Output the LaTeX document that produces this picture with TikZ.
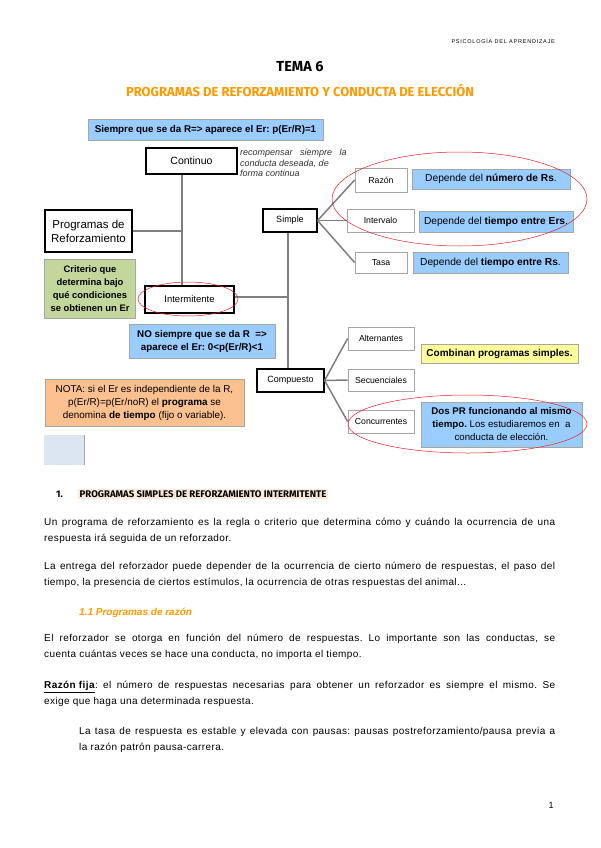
\documentclass[tikz,border=0pt]{standalone}
\usepackage{fontspec}
\setmainfont{Liberation Sans}
\newfontfamily\headfont{Fira Sans}
\usepackage{xcolor}
\usepackage{tikz}
\usetikzlibrary{
  positioning,
  shapes.geometric
}
\frenchspacing
\definecolor{psBlue}{HTML}{99CCFF}
\definecolor{psGreen}{HTML}{C3D69B}
\definecolor{psPeach}{HTML}{FAC090}
\definecolor{psYellow}{HTML}{FFFF99}
\definecolor{psOrange}{HTML}{FF9900}
\definecolor{psLine}{HTML}{7F7F7F}
\definecolor{psEdge}{HTML}{A6A6A6}
\definecolor{psSquare}{HTML}{DCE6F0}
\definecolor{psHigh}{HTML}{FDE9D9}
\definecolor{psRing}{HTML}{E8202A}
\tikzset{
  psnode/.style={
    draw, inner sep=1pt, align=center, font=\fontsize{8}{10}\selectfont
  },
  mainbox/.style={psnode, fill=white, line width=1.6pt, font=\fontsize{10.5}{12}\selectfont},
  midbox/.style={psnode, fill=white, line width=1.1pt, font=\fontsize{9}{10}\selectfont},
  leafbox/.style={psnode, fill=white, draw=psEdge, line width=0.8pt, font=\fontsize{8.7}{10}\selectfont},
  infobox/.style={psnode, fill=psBlue, draw=psEdge, line width=0.6pt, font=\fontsize{10.2}{12}\selectfont},
  notebox/.style={psnode, draw=psEdge, line width=0.6pt, font=\fontsize{9.9}{13}\selectfont},
  branch/.style={draw=psLine, line width=1.5pt},
  ring/.style={draw=psRing, line width=0.5pt},
  para/.style={anchor=north west, align=justify, inner sep=0pt, font=\fontsize{10}{16}\selectfont\addfontfeatures{LetterSpace=4}},
  hand/.style={anchor=north west, align=left, inner sep=0pt, font=\fontsize{9}{10.5}\selectfont\itshape, text=black!80}
}

\begin{document}
\begin{tikzpicture}[x=1pt, y=-1pt]
  \useasboundingbox[fill=white] (0,0) rectangle (600,848);

  % page head
  \node[anchor=east, inner sep=0pt, font=\fontsize{5.5}{6}\selectfont\addfontfeatures{LetterSpace=14}] (runhead) at (555,41) {PSICOLOGÌA DEL APRENDIZAJE};
  \node[inner sep=0pt, font=\headfont\bfseries\fontsize{14.5}{16}\selectfont] (tema) at (300,67) {TEMA 6};
  \node[inner sep=0pt, text=psOrange, font=\headfont\bfseries\fontsize{13}{15}\selectfont] (titulo) at (300,90) {PROGRAMAS DE REFORZAMIENTO Y CONDUCTA DE ELECCIÓN};

  % diagram
  \node[infobox, font=\bfseries\fontsize{9.8}{11}\selectfont, minimum width=235, minimum height=21] (siempre) at (205.5,129.5) {Siempre que se da R=> aparece el Er: p(Er/R)=1};
  \node[mainbox, minimum width=91, minimum height=26] (continuo) at (191.5,161) {Continuo};
  \node[hand] (nota1) at (240,149) {recompensar \ \ siempre \ \ la\\conducta deseada, de\\forma continua};
  \node[mainbox, font=\fontsize{11.5}{14}\selectfont, minimum width=87, minimum height=42] (programas) at (88.5,231) {Programas de\\Reforzamiento};
  \node[notebox, fill=psGreen, font=\bfseries\fontsize{9.4}{13}\selectfont, minimum width=91, minimum height=59] (criterio) at (90,288.5) {Criterio que\\determina bajo\\qué condiciones\\se obtienen un Er};
  \node[mainbox, font=\fontsize{9.5}{10}\selectfont, minimum width=89, minimum height=27] (interm) at (189.5,299.5) {Intermitente};
  \node[infobox, font=\bfseries\fontsize{9.8}{13}\selectfont, minimum width=146, minimum height=34] (nosiempre) at (202,341) {NO siempre que se da R \ =>\\aparece el Er: 0<p(Er/R)<1};
  \node[notebox, fill=psPeach, minimum width=199, minimum height=47] (nota) at (144.5,402.5) {NOTA: si el Er es independiente de la R,\\p(Er/R)=p(Er/noR) el \textbf{programa} se\\denomina \textbf{de tiempo} (fijo o variable).};
  \node[fill=psSquare, draw=none, minimum width=40, minimum height=30, inner sep=0pt] (cuadro) at (64,450) {};
  \draw[psEdge, line width=1.2pt] (cuadro.north east) -- (cuadro.south east);

  \node[midbox, minimum width=54, minimum height=23] (simple) at (290,220.5) {Simple};
  \node[leafbox, minimum width=52, minimum height=24] (razon) at (381,180) {Razón};
  \node[leafbox, line width=0.5pt, minimum width=67, minimum height=23] (intervalo) at (380.5,220.5) {Intervalo};
  \node[leafbox, minimum width=52, minimum height=21] (tasa) at (381,262.5) {Tasa};
  \node[infobox, minimum width=158, minimum height=20] (dep1) at (491,179) {Depende del \textbf{número de Rs}.};
  \node[infobox, minimum width=154, minimum height=21] (dep2) at (496,221.5) {Depende del \textbf{tiempo entre Ers}.};
  \node[infobox, minimum width=155, minimum height=21] (dep3) at (490.5,262.5) {Depende del \textbf{tiempo entre Rs}.};

  \node[midbox, minimum width=67, minimum height=23] (compuesto) at (290.5,380.5) {Compuesto};
  \node[leafbox, minimum width=66, minimum height=23] (altern) at (381,338.5) {Alternantes};
  \node[leafbox, minimum width=66, minimum height=22] (secuen) at (381,380) {Secuenciales};
  \node[leafbox, minimum width=66, minimum height=23] (concur) at (381,421.5) {Concurrentes};
  \node[infobox, fill=psYellow, font=\bfseries\fontsize{10}{11}\selectfont, minimum width=157, minimum height=19] (combinan) at (499.5,353.5) {Combinan programas simples.};
  \node[infobox, font=\fontsize{9.7}{13}\selectfont, minimum width=161, minimum height=45] (dospr) at (501.5,424.5) {\textbf{Dos PR funcionando al mismo}\\\textbf{tiempo.} Los estudiaremos en \ a\\conducta de elección.};

  % connectors
  \coordinate (trunk) at (182,0);
  \coordinate (trunkb) at (288,0);
  \draw[branch] (continuo.south -| trunk) -- (interm.north -| trunk);
  \draw[branch] (programas.east) -- (programas.east -| trunk);
  \draw[branch] (interm.east |- 0,297) -- (trunkb |- 0,297);
  \draw[branch] (simple.south -| trunkb) -- (compuesto.north -| trunkb);
  \foreach \n in {razon,intervalo,tasa}{\draw[branch] (simple.east) -- (\n.west);}
  \foreach \n in {altern,secuen,concur}{\draw[branch] (compuesto.east) -- (\n.west);}

  % red rings
  \draw[ring] (188,299) ellipse [x radius=50, y radius=17];
  \draw[ring] (459.5,199) ellipse [x radius=127.5, y radius=47];
  \draw[ring] (467.5,424) ellipse [x radius=119.5, y radius=29];

  % text
  \node[inner sep=0pt, anchor=base west, font=\headfont\bfseries\fontsize{9.6}{11}\selectfont] (num) at (56,497) {1.};
  \node[inner sep=1.5pt, anchor=base west, fill=psHigh, font=\headfont\bfseries\fontsize{9.6}{11}\selectfont] (seccion) at (78,497) {PROGRAMAS SIMPLES DE REFORZAMIENTO INTERMITENTE};
  \node[para, text width=511] (p1) at (44,514) {\strut Un programa de reforzamiento es la regla o criterio que determina cómo y cuándo la ocurrencia de una\linebreak respuesta irá seguida de un reforzador.};
  \node[para, text width=511] (p2) at (44,558) {\strut La entrega del reforzador puede depender de la ocurrencia de cierto número de respuestas, el paso del\linebreak tiempo, la presencia de ciertos estímulos, la ocurrencia de otras respuestas del animal...};
  \node[inner sep=0pt, anchor=base west, text=psOrange, font=\bfseries\itshape\fontsize{10}{12}\selectfont] (sub) at (79,615) {1.1 Programas de razón};
  \node[para, text width=511] (p3) at (44,630) {\strut El reforzador se otorga en función del número de respuestas. Lo importante son las conductas, se\linebreak cuenta cuántas veces se hace una conducta, no importa el tiempo.};
  \node[para, text width=511] (p4) at (44,677) {\strut \underline{\textbf{Razón fija}}: el número de respuestas necesarias para obtener un reforzador es siempre el mismo. Se\linebreak exige que haga una determinada respuesta.};
  \node[para, text width=476] (p5) at (79,723) {\strut La tasa de respuesta es estable y elevada con pausas: pausas postreforzamiento/pausa previa a\linebreak la razón patrón pausa-carrera.};
  \node[inner sep=0pt, anchor=base, font=\fontsize{9}{10}\selectfont] (pagina) at (551,808) {1};
\end{tikzpicture}
\end{document}
